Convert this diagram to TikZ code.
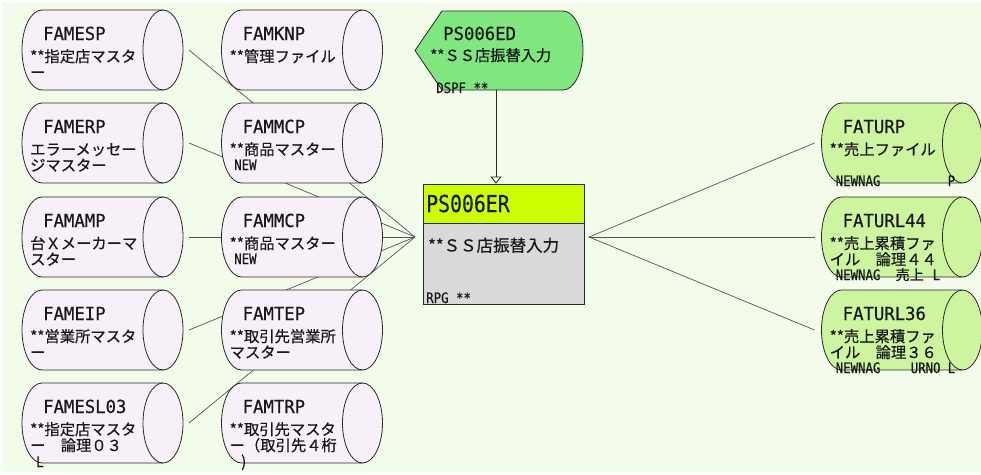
\documentclass[tikz,border=0pt]{standalone}
\usepackage{fontspec}
\setmainfont{Noto Sans CJK JP}
\newfontfamily\jpfont[FakeBold=0.6]{Noto Sans CJK JP}
\newfontfamily\ttlfont[FakeStretch=0.96,FakeBold=0.5]{DejaVu Sans Mono}
\newfontfamily\bigfont[FakeStretch=0.85,FakeBold=0.5]{DejaVu Sans Mono}
\newfontfamily\smfont[FakeStretch=0.86,FakeBold=0.5]{DejaVu Sans Mono}
\usetikzlibrary{arrows.meta}
\definecolor{bgc}{RGB}{243,251,234}
\definecolor{cylline}{RGB}{40,40,40}
\definecolor{conn}{RGB}{85,85,85}
\definecolor{lavf}{RGB}{247,240,248}
\definecolor{grnf}{RGB}{205,245,160}
\definecolor{edgreen}{RGB}{128,230,128}
\definecolor{ylw}{RGB}{204,255,0}
\definecolor{bodyg}{RGB}{217,217,217}
\definecolor{txt}{RGB}{25,25,25}
\tikzset{
  cylnode/.style={minimum width=161pt, minimum height=80pt, inner sep=0pt, outer sep=0pt},
  ttl/.style={font=\ttlfont\fontsize{18}{18}\selectfont, anchor=base west, inner sep=0pt, text=txt},
  bigttl/.style={font=\bigfont\fontsize{23.3}{24}\selectfont, anchor=base west, inner sep=0pt, text=txt},
  jp/.style={font=\jpfont\fontsize{15.3}{16}\selectfont, anchor=base west, inner sep=0pt, text=txt},
  jpsm/.style={font=\jpfont\fontsize{14}{14}\selectfont, anchor=base west, inner sep=0pt, text=txt},
  jpbig/.style={font=\jpfont\fontsize{16.5}{17}\selectfont, anchor=base west, inner sep=0pt, text=txt},
  sm/.style={font=\smfont\fontsize{14.4}{15}\selectfont, anchor=base west, inner sep=0pt, text=txt},
  connline/.style={draw=conn, line width=0.7pt},
  outl/.style={draw=cylline, line width=0.8pt},
}
\newcommand\drawcyl[2]{%
  \path[fill=#2, outl] ([xshift=20pt]#1.north west) -- ([xshift=-20pt]#1.north east)
    arc[start angle=90, end angle=-90, x radius=20pt, y radius=40pt]
    -- ([xshift=20pt]#1.south west)
    arc[start angle=270, end angle=90, x radius=20pt, y radius=40pt] -- cycle;
  \draw[outl] ([xshift=-20pt]#1.north east)
    arc[start angle=90, end angle=270, x radius=20pt, y radius=40pt];}
\newcommand\cyltitle[2]{\node[ttl] (#1-t) at ([xshift=21pt,yshift=-30pt]#1.north west) {#2};}
\newcommand\cylline[4]{\node[jp] (#1-#2) at ([xshift=8pt,yshift=-#3pt]#1.north west) {#4};}
\begin{document}
\begin{tikzpicture}[x=1pt,y=-1pt]
\useasboundingbox (0,0) rectangle (981,474);
\fill[white] (0,0) rectangle (981,474);
\fill[bgc] (2,2) rectangle (981,472);
% cylinder nodes
\node[cylnode] (esp) at (102.5,50) {};
\node[cylnode] (erp) at (102.5,143) {};
\node[cylnode] (amp) at (102.5,237) {};
\node[cylnode] (eip) at (102.5,330) {};
\node[cylnode] (esl) at (102.5,423) {};
\node[cylnode] (knp) at (302,50) {};
\node[cylnode] (mcpa) at (302,143) {};
\node[cylnode] (mcpb) at (302,237) {};
\node[cylnode] (tep) at (302,330) {};
\node[cylnode] (trp) at (302,423) {};
\node[cylnode] (urp) at (902,143) {};
\node[cylnode] (url44) at (902,237) {};
\node[cylnode] (url36) at (902,330) {};
\coordinate (lhub) at (415,237);
\coordinate (rhub) at (589,237);
% connectors (behind)
\draw[connline] ([xshift=6pt]esp.east) -- (lhub);
\draw[connline] ([xshift=6pt]erp.east) -- (lhub);
\draw[connline] ([xshift=6pt]amp.east) -- (lhub);
\draw[connline] ([xshift=6pt]eip.east) -- (lhub);
\draw[connline] ([xshift=6pt]esl.east) -- (lhub);
\draw[connline] (rhub) -- ([xshift=-7pt]urp.west);
\draw[connline] (rhub) -- ([xshift=-7pt]url44.west);
\draw[connline] (rhub) -- ([xshift=-7pt]url36.west);
% cylinders
\drawcyl{esp}{lavf}
\drawcyl{erp}{lavf}
\drawcyl{amp}{lavf}
\drawcyl{eip}{lavf}
\drawcyl{esl}{lavf}
\drawcyl{knp}{lavf}
\drawcyl{mcpa}{lavf}
\drawcyl{mcpb}{lavf}
\drawcyl{tep}{lavf}
\drawcyl{trp}{lavf}
\drawcyl{urp}{grnf}
\drawcyl{url44}{grnf}
\drawcyl{url36}{grnf}
% PS006ED display
\node[minimum width=168pt, minimum height=79pt, inner sep=0pt, outer sep=0pt] (ed) at (499,50.5) {};
\path[fill=edgreen, outl] (ed.west) -- ([xshift=27pt]ed.north west) -- ([xshift=-20pt]ed.north east)
  arc[start angle=90, end angle=-90, x radius=20pt, y radius=39.5pt]
  -- ([xshift=27pt]ed.south west) -- cycle;
% PS006ER program box
\node[outl, fill=ylw, minimum width=161pt, minimum height=39pt, inner sep=0pt] (erh) at (503.5,203.5) {};
\node[outl, fill=bodyg, minimum width=161pt, minimum height=81pt, inner sep=0pt] (er) at (503.5,263.5) {};
% arrow
\draw[draw=cylline, line width=0.8pt, -{Triangle[width=11pt,length=7pt,fill=bgc]}]
  ([xshift=-3pt]ed.south) -- ([xshift=-3pt]ed.south |- erh.north);
% texts of the display and program
\node[ttl] (ed-t) at (443,40) {PS006ED};
\node[jp, font=\jpfont\fontsize{15.25}{16}\selectfont] (ed-1) at (430,61) {**ＳＳ店振替入力};
\node[sm] (ed-s) at (436,93) {DSPF **};
\node[bigttl] (er-t) at (426,212) {PS006ER};
\node[jpbig] (er-1) at (428,251.5) {**ＳＳ店振替入力};
\node[sm] (er-s) at (426,303) {RPG **};
% texts col1
\cyltitle{esp}{FAMESP}
\cylline{esp}{1}{52}{**指定店マスタ}
\cylline{esp}{2}{68}{ー}
\cyltitle{erp}{FAMERP}
\cylline{erp}{1}{52}{エラーメッセー}
\cylline{erp}{2}{68}{ジマスター}
\cyltitle{amp}{FAMAMP}
\cylline{amp}{1}{52}{台Ｘメーカーマ}
\cylline{amp}{2}{68}{スター}
\cyltitle{eip}{FAMEIP}
\cylline{eip}{1}{52}{**営業所マスタ}
\cylline{eip}{2}{68}{ー}
\cyltitle{esl}{FAMESL03}
\cylline{esl}{1}{52}{**指定店マスタ}
\cylline{esl}{2}{68}{ー　論理０３}
\node[sm] (esl-3) at ([xshift=14pt,yshift=-84pt]esl.north west) {L};
% texts col2
\cyltitle{knp}{FAMKNP}
\cylline{knp}{1}{52}{**管理ファイル}
\cyltitle{mcpa}{FAMMCP}
\cylline{mcpa}{1}{52}{**商品マスター}
\node[sm] (mcpa-s) at ([xshift=12.5pt,yshift=-67pt]mcpa.north west) {NEW};
\cyltitle{mcpb}{FAMMCP}
\cylline{mcpb}{1}{52}{**商品マスター}
\node[sm] (mcpb-s) at ([xshift=12.5pt,yshift=-67pt]mcpb.north west) {NEW};
\cyltitle{tep}{FAMTEP}
\cylline{tep}{1}{52}{**取引先営業所}
\cylline{tep}{2}{68}{マスター}
\cyltitle{trp}{FAMTRP}
\cylline{trp}{1}{52}{**取引先マスタ}
\cylline{trp}{2}{68}{ー（取引先４桁}
\node[jp] (trp-3) at ([xshift=19.5pt,yshift=-84pt]trp.north west) {)};
% texts right
\cyltitle{urp}{FATURP}
\cylline{urp}{1}{52}{**売上ファイル}
\node[sm] (urp-s) at ([xshift=14pt,yshift=-83pt]urp.north west) {NEWNAG};
\node[sm] (urp-p) at ([xshift=126pt,yshift=-83pt]urp.north west) {P};
\cyltitle{url44}{FATURL44}
\cylline{url44}{1}{52}{**売上累積ファ}
\cylline{url44}{2}{68}{イル　論理４４}
\node[sm] (url44-s) at ([xshift=14pt,yshift=-83pt]url44.north west) {NEWNAG};
\node[jpsm] (url44-u) at ([xshift=74pt,yshift=-83pt]url44.north west) {売上};
\node[sm] (url44-l) at ([xshift=111pt,yshift=-83pt]url44.north west) {L};
\cyltitle{url36}{FATURL36}
\cylline{url36}{1}{52}{**売上累積ファ}
\cylline{url36}{2}{68}{イル　論理３６}
\node[sm] (url36-s) at ([xshift=14pt,yshift=-83pt]url36.north west) {NEWNAG};
\node[sm] (url36-u) at ([xshift=89pt,yshift=-83pt]url36.north west) {URNO};
\node[sm] (url36-l) at ([xshift=126pt,yshift=-83pt]url36.north west) {L};
\end{tikzpicture}
\end{document}
